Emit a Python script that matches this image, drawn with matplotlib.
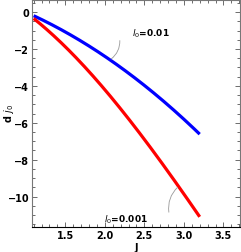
import matplotlib.pyplot as plt
import numpy as np
from matplotlib.ticker import MultipleLocator

# curves
J = [1.1, 1.5, 2.0, 2.5, 3.0, 3.2]
dj_01 = [-0.2, -1.05, -2.4, -4.0, -5.75, -6.65]     # l0 = 0.01
dj_001 = [-0.33, -1.9, -4.2, -6.85, -9.95, -11.05]  # l0 = 0.001

plt.rcParams['font.family'] = 'DejaVu Sans'
fig = plt.figure(figsize=(2.41, 2.53), dpi=100)
ax = fig.add_axes([0.133, 0.099, 0.863, 0.897])

# smooth a little between the read points
Jf = np.linspace(J[0], J[-1], 200)
c1 = np.polyfit(J, dj_01, 3)
c2 = np.polyfit(J, dj_001, 3)
ax.plot(Jf, np.polyval(c1, Jf), color=(0, 0, 1), lw=2.3, solid_capstyle='butt')
ax.plot(Jf, np.polyval(c2, Jf), color=(1, 0, 0), lw=2.3, solid_capstyle='butt')

ax.set_xlim(1.08, 3.71)
ax.set_ylim(-11.65, 0.66)
ax.xaxis.set_major_locator(MultipleLocator(0.5))
ax.xaxis.set_minor_locator(MultipleLocator(0.1))
ax.yaxis.set_major_locator(MultipleLocator(2))
ax.yaxis.set_minor_locator(MultipleLocator(0.5))
ax.tick_params(which='both', direction='in', top=True, right=True,
               labelsize=7, colors='#555555', labelcolor='black', width=0.6, pad=2)
ax.tick_params(which='major', length=3.5)
ax.tick_params(which='minor', length=2)
for lab in ax.get_xticklabels() + ax.get_yticklabels():
    lab.set_fontweight('bold')
for s in ax.spines.values():
    s.set_color('#777777')
    s.set_linewidth(0.8)
ax.spines['bottom'].set_color('black')

fig.text(136 / 241, 1 - 248 / 253, 'J', fontsize=7, fontweight='bold',
         ha='center', va='center')
fig.text(8 / 241, 1 - 113 / 253, r'd $\dot{j}_0$', fontsize=7, fontweight='bold',
         ha='center', va='center', rotation=90)

ax.text(2.34, -1.12, r'$l_0$=0.01', fontsize=6.5, fontweight='bold',
        ha='left', va='center')
ax.annotate('', xy=(2.08, -2.54), xytext=(2.19, -1.54),
            arrowprops=dict(arrowstyle='-', color='#999999', lw=0.6,
                            connectionstyle='arc3,rad=-0.25', shrinkA=0, shrinkB=0))
ax.text(2.27, -11.2, r'$l_0$=0.001', fontsize=6.5, fontweight='bold',
        ha='center', va='center')
ax.annotate('', xy=(2.92, -9.5), xytext=(2.81, -10.85),
            arrowprops=dict(arrowstyle='-', color='#999999', lw=0.6,
                            connectionstyle='arc3,rad=-0.25', shrinkA=0, shrinkB=0))

fig.savefig('out.png', dpi=100)
